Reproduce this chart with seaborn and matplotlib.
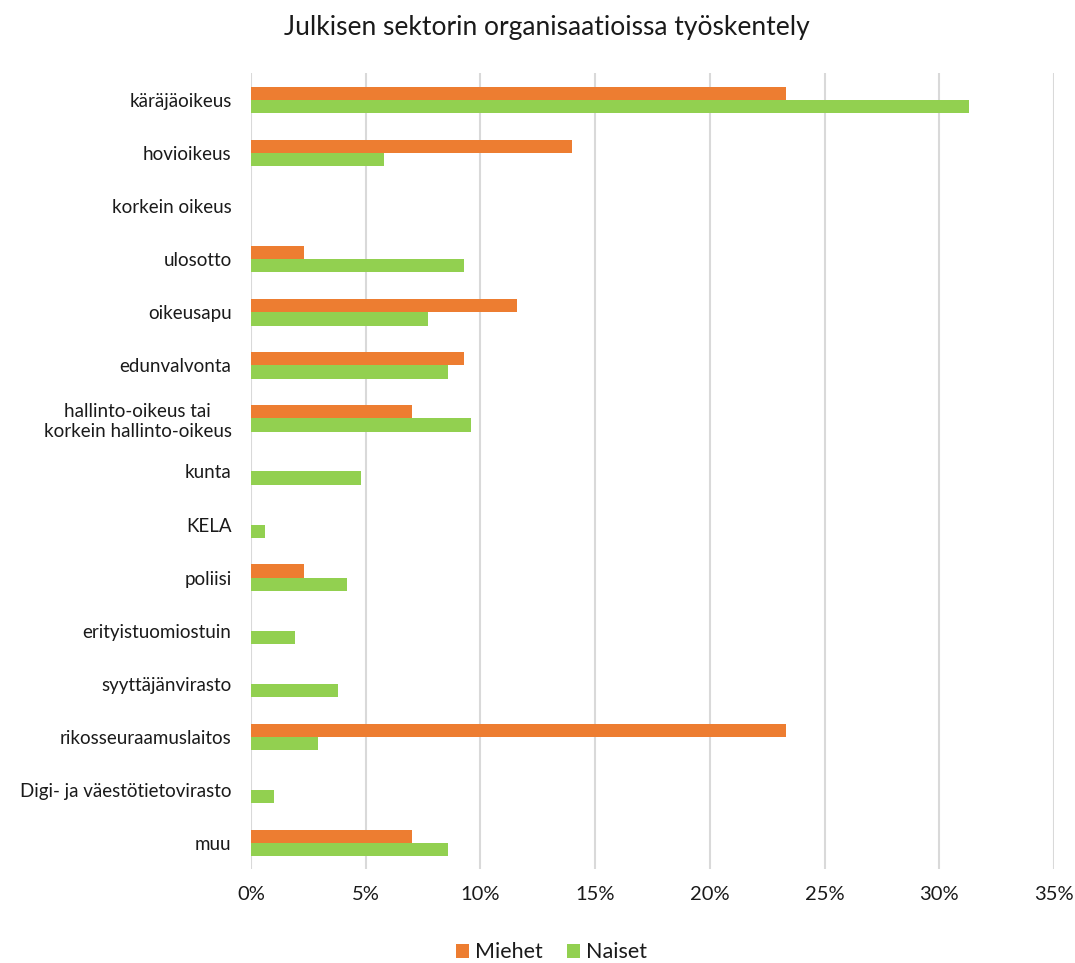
import matplotlib
matplotlib.use("Agg")
import matplotlib.pyplot as plt
import pandas as pd
import seaborn as sns
from matplotlib.ticker import FuncFormatter

# data (percent)
kategoriat = [
    "käräjäoikeus", "hovioikeus", "korkein oikeus", "ulosotto", "oikeusapu",
    "edunvalvonta", "hallinto-oikeus tai\nkorkein hallinto-oikeus", "kunta",
    "KELA", "poliisi", "erityistuomiostuin", "syyttäjänvirasto",
    "rikosseuraamuslaitos", "Digi- ja väestötietovirasto", "muu",
]
miehet = [23.3, 14.0, 0, 2.3, 11.6, 9.3, 7.0, 0, 0, 2.3, 0, 0, 23.3, 0, 7.0]
naiset = [31.3, 5.8, 0, 9.3, 7.7, 8.6, 9.6, 4.8, 0.6, 4.2, 1.9, 3.8, 2.9, 1.0, 8.6]
sarjat = ["Miehet", "Naiset"]
xticks = [0, 5, 10, 15, 20, 25, 30, 35]

df = pd.DataFrame({
    "kategoria": kategoriat * 2,
    "sukupuoli": [sarjat[0]] * len(kategoriat) + [sarjat[1]] * len(kategoriat),
    "osuus": miehet + naiset,
})

sns.set_theme(style="white")
plt.rcParams["font.family"] = ["Lato", "DejaVu Sans"]

fig = plt.figure(figsize=(10.75, 9.63), dpi=100)
ax = fig.add_axes([0.2335, 0.0971, 0.747, 0.8266])

sns.barplot(data=df, y="kategoria", x="osuus", hue="sukupuoli", order=kategoriat,
            hue_order=sarjat, palette=["#ED7D31", "#92D050"], width=0.5,
            orient="h", ax=ax, saturation=1, linewidth=0, legend=True)

ax.set_xlim(0, 35)
ax.set_xticks(xticks)
ax.xaxis.set_major_formatter(FuncFormatter(lambda v, p: f"{v:.0f}%"))
ax.grid(axis="x", color="#d9d9d9", linewidth=1.5)
ax.set_axisbelow(True)
for s in ax.spines.values():
    s.set_visible(False)
ax.tick_params(axis="y", length=0, labelsize=13.5, colors="#1a1a1a", pad=14)
ax.tick_params(axis="x", length=0, labelsize=14.5, colors="#1a1a1a", pad=12)
for lab in ax.get_yticklabels():
    lab.set_multialignment("center")
ax.set_xlabel("")
ax.set_ylabel("")

fig.suptitle("Julkisen sektorin organisaatioissa työskentely", x=0.509, y=0.984,
             fontsize=19, va="top", color="#1a1a1a")

h, l = ax.get_legend_handles_labels()
ax.legend_.remove()
fig.legend(h, l, loc="center", bbox_to_anchor=(0.513, 0.011), ncol=2, frameon=False,
           fontsize=15.5, handlelength=0.6, handleheight=0.6, columnspacing=1.1,
           handletextpad=0.3, labelcolor="#1a1a1a")

fig.savefig("out.png", dpi=100)
